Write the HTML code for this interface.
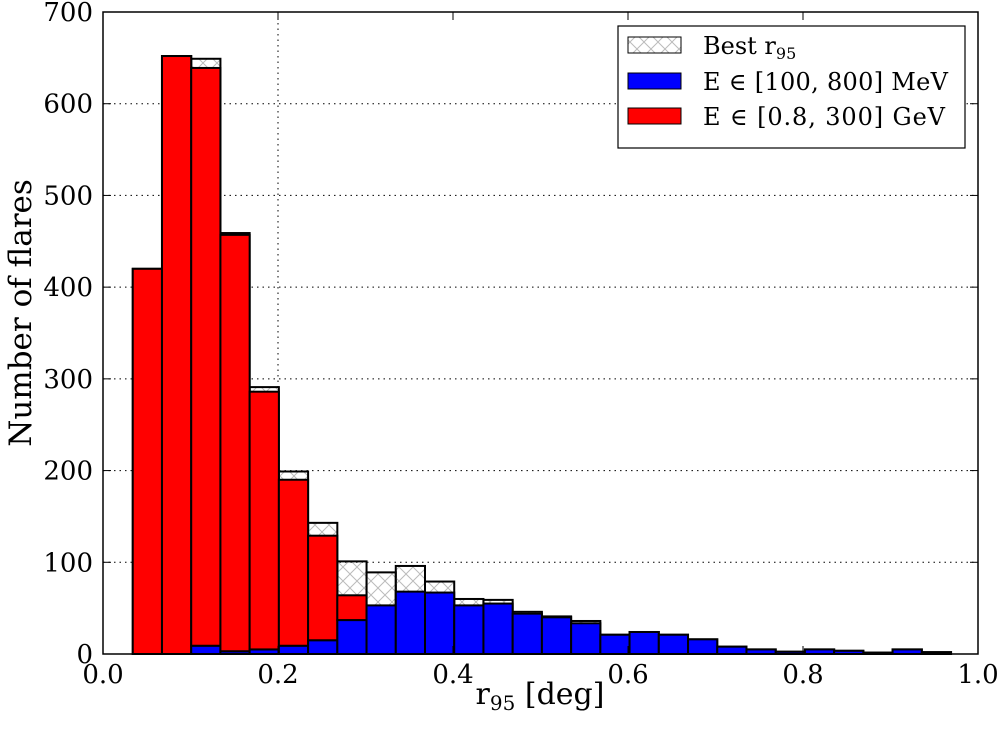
<!DOCTYPE html>
<html><head><meta charset="utf-8"><style>
html,body{margin:0;padding:0;background:#fff}
svg{display:block;font-family:"DejaVu Serif","Liberation Serif",serif}
</style></head><body>
<svg id="chart" width="1000" height="731" viewBox="0 0 1000 731">
<defs>
<pattern id="hatch" patternUnits="userSpaceOnUse" width="14" height="14">
<path d="M0,0 L14,14 M14,0 L0,14" stroke="#bbb" stroke-width="1"/>
</pattern>
</defs>
<g id="grid"></g>
<g id="bars"></g>
<g id="axes"></g>
<g>
<rect x="618" y="26" width="347" height="122" fill="#fff" stroke="#000" stroke-width="1.2"/>
<g>
<rect x="628" y="37" width="53" height="16" fill="url(#hatch)" stroke="#000"/>
<text x="703" y="54" font-size="24">Best r<tspan font-size="16" dy="5">95</tspan></text>
</g>
<g>
<rect x="628" y="73" width="53" height="16" fill="#0000ff" stroke="#000"/>
<text x="703" y="90" font-size="24" textLength="245">E ∈ [100, 800] MeV</text>
</g>
<g>
<rect x="628" y="108" width="53" height="16" fill="#ff0000" stroke="#000"/>
<text x="703" y="125" font-size="24" textLength="242">E ∈ [0.8, 300] GeV</text>
</g>
</g>
<text transform="translate(31,313) rotate(-90)" text-anchor="middle" font-size="31">Number of flares</text>
<text x="540" y="704" text-anchor="middle" font-size="30">r<tspan font-size="20" dy="6">95</tspan><tspan dy="-6"> [deg]</tspan></text>
</svg>
<script>
const binStart = 0.034;
const binWidth = 0.0334;
const bestCounts = [420,652,649,459,291,199,143,101,89,96,79,60,59,46,41,36,21,24,21,16,8,5,2.5,5,3.5,1.5,5,2];
const blueCounts = [0,0,9,3,5,9,15,37,53,68,67,53,55,44,40,33.5,21,24,21,16,8,5,2.5,5,3.5,1.5,5,2];
const totalCounts = [420,652,639,457,286,190,129,64,53,68,67,53,55,44,40,33.5,21,24,21,16,8,5,2.5,5,3.5,1.5,5,2];
const xTicks = [0.0,0.2,0.4,0.6,0.8,1.0];
const xTickLabels = ["0.0","0.2","0.4","0.6","0.8","1.0"];
const yTicks = [0,100,200,300,400,500,600,700];
const vLine = 0.2;

const X0=103, X1=978, Y0=654, Y1=12;
const sx = v => X0 + v*(X1-X0);
const sy = v => Y0 - v/700*(Y0-Y1);
const NS="http://www.w3.org/2000/svg";
function mk(tag, attrs, parent){const e=document.createElementNS(NS,tag);for(const k in attrs)e.setAttribute(k,attrs[k]);parent.appendChild(e);return e;}
const grid=document.getElementById('grid'), bars=document.getElementById('bars'), axes=document.getElementById('axes');

yTicks.forEach(t=>{ if(t>0&&t<700){
  const l=mk('line',{x1:X0,x2:X1,y1:sy(t),y2:sy(t),stroke:'#000','stroke-width':1,'stroke-dasharray':'1.5,4'},grid);
  
  
}});
const vl=mk('line',{x1:sx(vLine),x2:sx(vLine),y1:Y1,y2:Y0,stroke:'#000','stroke-width':1,'stroke-dasharray':'1.5,4'},grid);



bestCounts.forEach((v,i)=>{
  const x=sx(binStart+i*binWidth), w=sx(binStart+(i+1)*binWidth)-x;
  const r=mk('rect',{x:x,y:sy(v),width:w,height:sy(0)-sy(v),fill:'url(#hatch)',stroke:'#000','stroke-width':2},bars);
  
  
});
bestCounts.forEach((v,i)=>{
  const x=sx(binStart+i*binWidth), w=sx(binStart+(i+1)*binWidth)-x;
  const b=blueCounts[i], t=totalCounts[i];
  if(b>0){
    const r=mk('rect',{x:x,y:sy(b),width:w,height:sy(0)-sy(b),fill:'#0000ff',stroke:'#000','stroke-width':2},bars);
    
    
  }
  if(t>b){
    const r=mk('rect',{x:x,y:sy(t),width:w,height:sy(b)-sy(t),fill:'#ff0000',stroke:'#000','stroke-width':2},bars);
    
    
  }
});

const frame=mk('rect',{x:X0,y:Y1,width:X1-X0,height:Y0-Y1,fill:'none',stroke:'#000','stroke-width':1.5},axes);


yTicks.forEach(t=>{
  mk('line',{x1:X0,x2:X0+8,y1:sy(t),y2:sy(t),stroke:'#000'},axes);
  mk('line',{x1:X1,x2:X1-8,y1:sy(t),y2:sy(t),stroke:'#000'},axes);
  const tx=mk('text',{x:X0-10,y:sy(t)+9,'text-anchor':'end','font-size':26},axes);
  tx.textContent=String(t);
  
  
});
xTicks.forEach((t,i)=>{
  mk('line',{x1:sx(t),x2:sx(t),y1:Y0,y2:Y0-8,stroke:'#000'},axes);
  mk('line',{x1:sx(t),x2:sx(t),y1:Y1,y2:Y1+8,stroke:'#000'},axes);
  const tx=mk('text',{x:sx(t),y:Y0+29,'text-anchor':'middle','font-size':26},axes);
  tx.textContent=xTickLabels[i];
  
  
});
</script>
</body></html>
